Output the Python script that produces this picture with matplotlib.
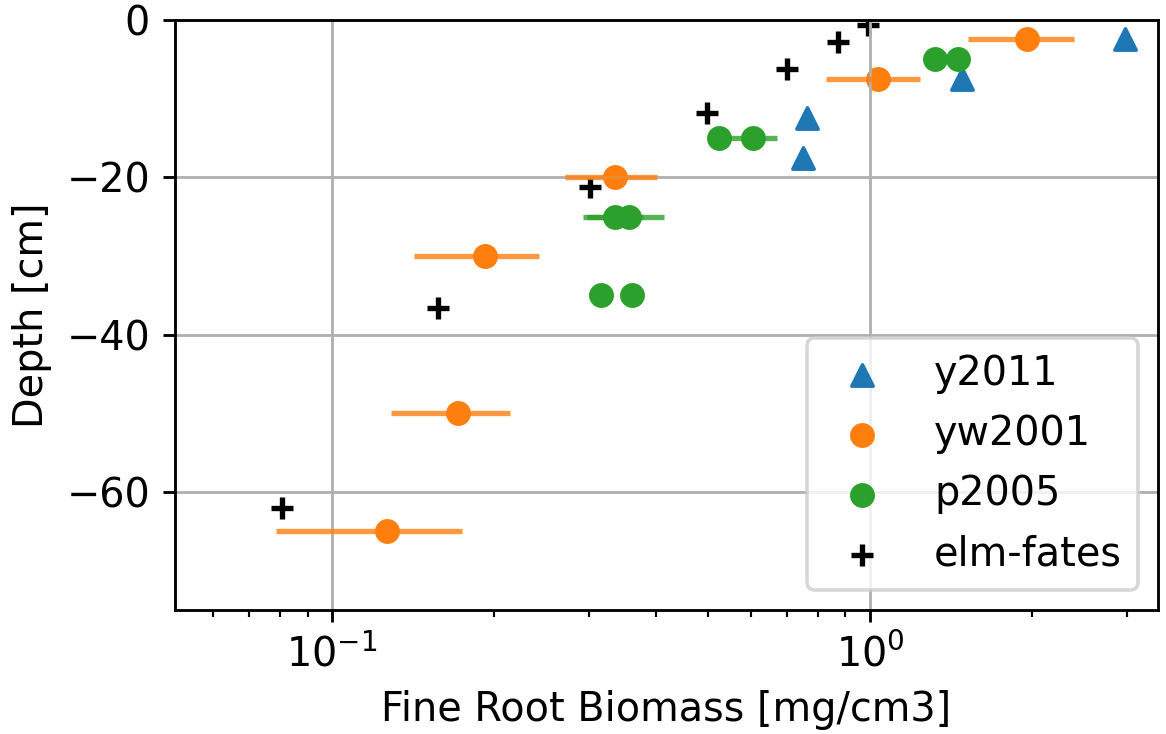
"""
Fine root biomass vs depth: observations against elm-fates output.
Output: out.png
"""

import matplotlib.pyplot as plt
from matplotlib.ticker import MultipleLocator

# y2011 observations
y2011_depth = [-2.5, -7.5, -12.5, -17.5]
y2011_frb = [2.98, 1.48, 0.764, 0.751]

# yw2001 observations, with spread
yw2001_depth = [-2.5, -7.5, -20, -30, -50, -65]
yw2001_frb = [1.96, 1.035, 0.336, 0.192, 0.1715, 0.1265]
yw2001_err = [0.44, 0.205, 0.065, 0.05, 0.043, 0.048]

# p2005 observations (two sites per depth), with spread
p2005_depth = [-5, -5, -15, -15, -25, -25, -35, -35]
p2005_frb = [1.32, 1.457, 0.524, 0.606, 0.336, 0.356, 0.316, 0.361]
p2005_err = [0.04, 0.05, 0.02, 0.066, 0.043, 0.058, 0.01, 0.01]

# elm-fates, at the model soil layer node depths
elm_depth = [-0.71, -2.79, -6.23, -11.89, -21.22, -36.61, -61.98]
elm_frb = [0.99, 0.872, 0.701, 0.498, 0.302, 0.157, 0.0807]

DPI = 256
plt.rcParams["font.size"] = 11.2
fig, ax = plt.subplots(figsize=(1166 / DPI, 734 / DPI), dpi=DPI)
fig.subplots_adjust(left=0.150, right=0.993, top=0.973, bottom=0.169)

ax.errorbar(yw2001_frb, yw2001_depth, xerr=yw2001_err, fmt="none",
            ecolor="C1", alpha=0.8)
ax.errorbar(p2005_frb, p2005_depth, xerr=p2005_err, fmt="none",
            ecolor="C2", alpha=0.8)

ax.scatter(y2011_frb, y2011_depth, marker="^", color="C0", label="y2011")
ax.scatter(yw2001_frb, yw2001_depth, marker="o", color="C1", label="yw2001")
ax.scatter(p2005_frb, p2005_depth, marker="o", color="C2", label="p2005")
ax.scatter(elm_frb, elm_depth, marker="+", color="k", label="elm-fates")

ax.set_xscale("log")
ax.set_xlim(0.051, 3.43)
ax.set_ylim(-75, 0)
ax.yaxis.set_major_locator(MultipleLocator(20))
ax.grid(True)
ax.set_xlabel("Fine Root Biomass [mg/cm3]")
ax.set_ylabel("Depth [cm]")
ax.legend(loc="lower right")

fig.savefig("out.png", dpi=DPI)
